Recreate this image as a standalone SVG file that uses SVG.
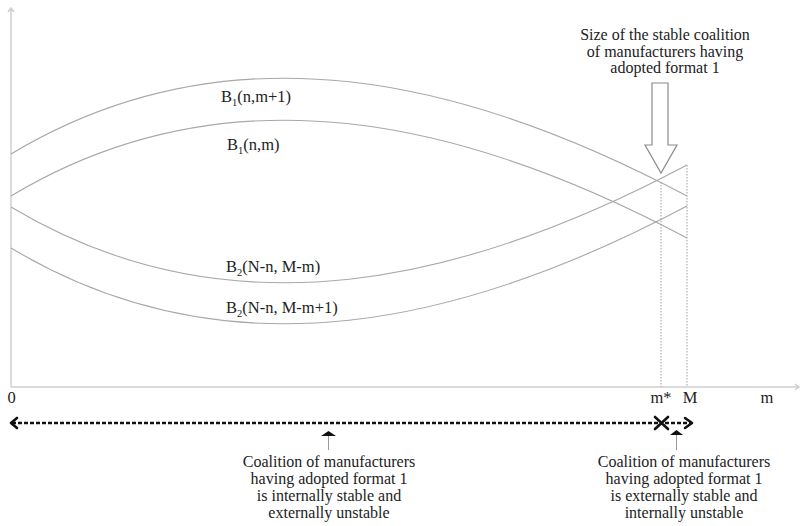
<svg xmlns="http://www.w3.org/2000/svg" width="800" height="526" viewBox="0 0 800 526">
  <style>
    .axis { stroke: #cfcfcf; stroke-width: 1.5; fill: none; }
    .curve { stroke: #a8a8a8; stroke-width: 1.1; fill: none; }
    .guide { stroke: #a0a0a0; stroke-width: 1; stroke-dasharray: 1.5 1.5; fill: none; }
    .range { stroke: #111; stroke-width: 2.6; stroke-dasharray: 4 2; fill: none; }
    .head { stroke: #111; stroke-width: 2.6; fill: none; stroke-linecap: round; stroke-linejoin: round; }
    .pointer { stroke: #999; stroke-width: 1; }
    text { font-family: "Liberation Serif", "Times New Roman", serif; font-size: 16.5px; fill: #222; }
    .note { font-size: 16px; }
    .c { text-anchor: middle; }
    .sub { font-size: 10.5px; }
  </style>

  <rect width="800" height="526" fill="#fff"/>

  <!-- axes -->
  <g id="axes">
    <path class="axis" d="M11,387 V8 M8,12 L11,8 L14,12"/>
    <path class="axis" d="M11,387 H799 M795,384 L799,387 L795,390"/>
    <text class="c" x="11.5" y="403">0</text>
    <text class="c" x="661" y="403">m*</text>
    <text class="c" x="690" y="403">M</text>
    <text class="c" x="767" y="403">m</text>
  </g>

  <!-- benefit curves -->
  <g id="curves">
    <path id="b1-m1" class="curve" d="M11,154 C231,22 467,79.4 687,196"/>
    <path id="b1-m" class="curve" d="M11,196 C231,64 467,121.4 687,238"/>
    <path id="b2-m" class="curve" d="M11,207 C231,339 467,281.6 687,165"/>
    <path id="b2-m1" class="curve" d="M11,248 C231,380 467,322.6 687,206"/>
  </g>

  <g id="curve-labels">
    <text x="221" y="102">B<tspan class="sub" dy="4">1</tspan><tspan dy="-4">(n,m+1)</tspan></text>
    <text x="227" y="150">B<tspan class="sub" dy="4">1</tspan><tspan dy="-4">(n,m)</tspan></text>
    <text x="226" y="272">B<tspan class="sub" dy="4">2</tspan><tspan dy="-4">(N-n, M-m)</tspan></text>
    <text x="226" y="313">B<tspan class="sub" dy="4">2</tspan><tspan dy="-4">(N-n, M-m+1)</tspan></text>
  </g>

  <!-- dotted guides at m* and M -->
  <g id="guides">
    <path class="guide" d="M661,182 V387"/>
    <path class="guide" d="M687,165 V387"/>
  </g>

  <!-- callout for the stable coalition size -->
  <g id="stable-size">
    <text class="c note" x="665" y="40">Size of the stable coalition</text>
    <text class="c note" x="665" y="56.5">of manufacturers having</text>
    <text class="c note" x="665" y="73">adopted format 1</text>
    <polygon points="652,83 668,83 668,145 677,145 661,173 645,145 652,145" fill="#fff" stroke="#8a8a8a" stroke-width="1.2"/>
  </g>

  <!-- stability ranges along m -->
  <g id="connectors">
    <path class="range" d="M12,423 H659"/>
    <path class="range" d="M665,423 H691"/>
    <path class="head" d="M17,418 L11,423 L17,428"/>
    <path class="head" d="M685,418 L692,423 L685,428"/>
    <path class="head" d="M655,417 L668,429 M655,429 L668,417"/>
    <line class="pointer" x1="328.5" y1="434" x2="328.5" y2="450"/>
    <polygon points="328.5,431 336,436 321,436" fill="#111"/>
    <line class="pointer" x1="676.5" y1="433" x2="676.5" y2="450"/>
    <polygon points="676.5,430 683,435 670,435" fill="#111"/>
  </g>

  <g id="internal-stable">
    <text class="c note" x="329" y="467">Coalition of manufacturers</text>
    <text class="c note" x="329" y="484">having adopted format 1</text>
    <text class="c note" x="329" y="501">is internally stable and</text>
    <text class="c note" x="329" y="518">externally unstable</text>
  </g>

  <g id="external-stable">
    <text class="c note" x="684" y="467">Coalition of manufacturers</text>
    <text class="c note" x="684" y="484">having adopted format 1</text>
    <text class="c note" x="684" y="501">is externally stable and</text>
    <text class="c note" x="684" y="518">internally unstable</text>
  </g>
</svg>
